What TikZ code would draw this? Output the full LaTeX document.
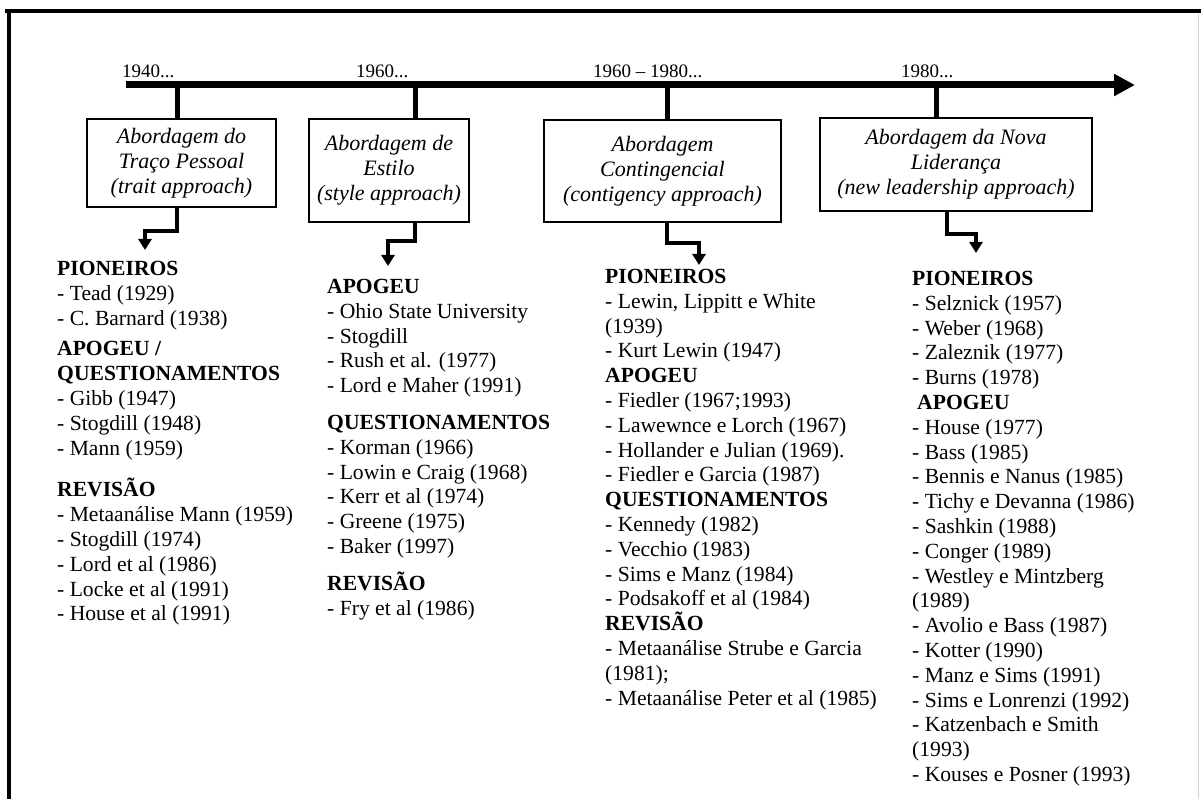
\documentclass[tikz,border=0pt]{standalone}
\usepackage{fontspec}
\setmainfont{Liberation Serif}
\usetikzlibrary{arrows.meta}
\tikzstyle{approach} = [rectangle, draw, line width=1.2pt, align=center, inner sep=0pt,
    font=\fontsize{22}{25}\selectfont\itshape]
\tikzstyle{year} = [anchor=base west, inner sep=0pt, font=\fontsize{19}{22}\selectfont]
\tikzstyle{authors} = [anchor=north west, align=left, inner sep=0pt,
    font=\fontsize{21.6}{24.8}\selectfont]
\tikzstyle{tick} = [draw, line width=5pt]
\tikzstyle{line} = [draw, line width=4pt, -{Triangle[length=11pt,width=13pt]}]
\tikzstyle{timeline} = [draw, line width=7pt, -{Triangle[length=21pt,width=21pt]}]

\begin{document}
\begin{tikzpicture}[x=1pt,y=-1pt]
    \useasboundingbox (0,0) rectangle (1201,799);
    % frame
    \draw[line width=3.5pt] (5,11) -- (1201,11);
    \draw[line width=3.5pt] (9,11) -- (9,799);
    \draw[gray!35,line width=1pt] (1198,14) -- (1198,799);

    % Place nodes
    \coordinate (tstart) at (126,85);
    \coordinate (tend) at (1135,85);
    \coordinate (t1) at (177,85);
    \coordinate (t2) at (415,85);
    \coordinate (t3) at (667,85);
    \coordinate (t4) at (936,85);
    \coordinate (e4) at (947,85);

    \node[year] (year1) at (122,78) {1940...};
    \node[year] (year2) at (356,78) {1960...};
    \node[year] (year3) at (593,78) {1960 – 1980...};
    \node[year] (year4) at (901,78) {1980...};

    \node[approach,minimum width=189pt,minimum height=88pt] (approach1) at (181.5,163) {Abordagem do\\Traço Pessoal\\(trait approach)};
    \node[approach,minimum width=160pt,minimum height=103pt] (approach2) at (389,170.5) {Abordagem de\\Estilo\\(style approach)};
    \node[approach,minimum width=237pt,minimum height=102pt] (approach3) at (662.5,171) {Abordagem\\Contingencial\\(contigency approach)};
    \node[approach,minimum width=272pt,minimum height=93pt] (approach4) at (956,164.5) {Abordagem da Nova\\Liderança\\(new leadership approach)};

    \coordinate (tip1) at (145,250);
    \coordinate (tip2) at (388,266);
    \coordinate (tip3) at (699,265);
    \coordinate (tip4) at (976,253);

    \node[authors] (list1) at (57,261) {\textbf{PIONEIROS}\\- Tead (1929)\\- C. Barnard (1938)\\[6pt]
        \textbf{APOGEU /}\\\textbf{QUESTIONAMENTOS}\\- Gibb (1947)\\- Stogdill (1948)\\- Mann (1959)\\[17pt]
        \textbf{REVISÃO}\\- Metaanálise Mann (1959)\\- Stogdill (1974)\\- Lord et al (1986)\\- Locke et al (1991)\\- House et al (1991)};
    \node[authors] (list2) at (327,279) {\textbf{APOGEU}\\- Ohio State University\\- Stogdill\\- Rush et al. (1977)\\- Lord e Maher (1991)\\[12pt]
        \textbf{QUESTIONAMENTOS}\\- Korman (1966)\\- Lowin e Craig (1968)\\- Kerr et al (1974)\\- Greene (1975)\\- Baker (1997)\\[12pt]
        \textbf{REVISÃO}\\- Fry et al (1986)};
    \node[authors] (list3) at (605,269) {\textbf{PIONEIROS}\\- Lewin, Lippitt e White\\(1939)\\- Kurt Lewin (1947)\\
        \textbf{APOGEU}\\- Fiedler (1967;1993)\\- Lawewnce e Lorch (1967)\\- Hollander e Julian (1969).\\- Fiedler e Garcia (1987)\\
        \textbf{QUESTIONAMENTOS}\\- Kennedy (1982)\\- Vecchio (1983)\\- Sims e Manz (1984)\\- Podsakoff et al (1984)\\
        \textbf{REVISÃO}\\- Metaanálise Strube e Garcia\\(1981);\\- Metaanálise Peter et al (1985)};
    \node[authors] (list4) at (912,271) {\textbf{PIONEIROS}\\- Selznick (1957)\\- Weber (1968)\\- Zaleznik (1977)\\- Burns (1978)\\
        \hspace*{5pt}\textbf{APOGEU}\\- House (1977)\\- Bass (1985)\\- Bennis e Nanus (1985)\\- Tichy e Devanna (1986)\\- Sashkin (1988)\\- Conger (1989)\\- Westley e Mintzberg\\(1989)\\- Avolio e Bass (1987)\\- Kotter (1990)\\- Manz e Sims (1991)\\- Sims e Lonrenzi (1992)\\- Katzenbach e Smith\\(1993)\\- Kouses e Posner (1993)};

    % Draw edges
    \path[timeline] (tstart) -- (tend);
    \path[tick] (t1) -- (t1 |- approach1.north);
    \path[tick] (t2) -- (t2 |- approach2.north);
    \path[tick] (t3) -- (t3 |- approach3.north);
    \path[tick] (t4) -- (t4 |- approach4.north);

    \path[line] (t1 |- approach1.south) -- ++(0,23) -| (tip1);
    \path[line] (t2 |- approach2.south) -- ++(0,18) -| (tip2);
    \path[line] (t3 |- approach3.south) -- ++(0,20) -| (tip3);
    \path[line] (e4 |- approach4.south) -- ++(0,22) -| (tip4);
\end{tikzpicture}
\end{document}
